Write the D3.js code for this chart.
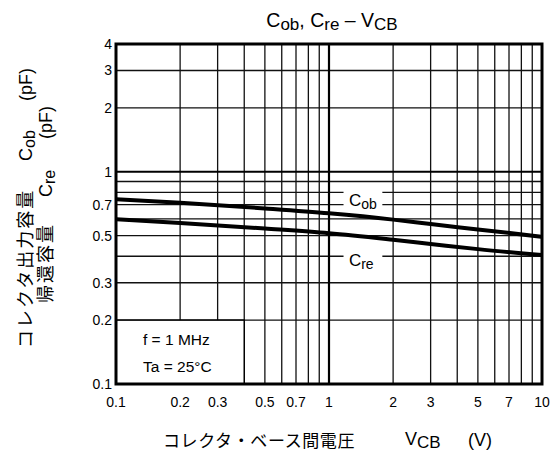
<!DOCTYPE html>
<html>
<head>
<meta charset="utf-8">
<script src="https://cdn.jsdelivr.net/npm/d3@7"></script>
<style>
  body { margin: 0; background: #fff; }
  text { font-family: "Liberation Sans", Arial, sans-serif; fill: #000; }
  .jp { font-family: "Noto Sans CJK JP", sans-serif; font-weight: 400; }
</style>
</head>
<body>
<div id="chart"></div>
<script>
const width = 557;
const height = 459;
const margin = { top: 44, right: 15, bottom: 75, left: 116 };

// Data
const vcb = [0.1, 0.2, 0.5, 1, 2, 3, 5, 10];
const cob = [0.742, 0.715, 0.672, 0.637, 0.595, 0.567, 0.535, 0.494];
const cre = [0.597, 0.574, 0.540, 0.513, 0.478, 0.457, 0.432, 0.405];

const xTicks = [0.1, 0.2, 0.3, 0.5, 0.7, 1, 2, 3, 5, 7, 10];
const yTicks = [0.1, 0.2, 0.3, 0.5, 0.7, 1, 2, 3, 4];
const xGrid = [0.2, 0.3, 0.4, 0.5, 0.6, 0.7, 0.8, 0.9, 2, 3, 4, 5, 6, 7, 8, 9];
const yGrid = [0.2, 0.3, 0.4, 0.5, 0.6, 0.7, 0.8, 0.9, 2, 3];

const svg = d3.select("#chart").append("svg")
  .attr("width", width)
  .attr("height", height);

const x = d3.scaleLog().domain([0.1, 10]).range([margin.left, width - margin.right]);
const y = d3.scaleLog().domain([0.1, 4]).range([height - margin.bottom, margin.top]);

// grid
const grid = svg.append("g");
grid.selectAll("line.gx")
  .data(xGrid)
  .join("line")
  .attr("x1", d => x(d)).attr("x2", d => x(d))
  .attr("y1", y(0.1)).attr("y2", y(4))
  .attr("stroke", "#111").attr("stroke-width", 1.3);
grid.selectAll("line.gy")
  .data(yGrid)
  .join("line")
  .attr("y1", d => y(d)).attr("y2", d => y(d))
  .attr("x1", x(0.1)).attr("x2", x(10))
  .attr("stroke", "#111").attr("stroke-width", 1.3);
// decade lines
grid.append("line")
  .attr("x1", x(1)).attr("x2", x(1)).attr("y1", y(0.1)).attr("y2", y(4))
  .attr("stroke", "#000").attr("stroke-width", 2.2);
grid.append("line")
  .attr("y1", y(1)).attr("y2", y(1)).attr("x1", x(0.1)).attr("x2", x(10))
  .attr("stroke", "#000").attr("stroke-width", 2.2);

// curves
const line = d3.line()
  .x((d, i) => x(vcb[i]))
  .y(d => y(d))
  .curve(d3.curveMonotoneX);

svg.append("path").datum(cob)
  .attr("d", line)
  .attr("fill", "none").attr("stroke", "#000").attr("stroke-width", 4);
svg.append("path").datum(cre)
  .attr("d", line)
  .attr("fill", "none").attr("stroke", "#000").attr("stroke-width", 4);

// curve labels with white backing over the grid
function curveLabel(sub, yv, top, base) {
  const g = svg.append("g");
  g.append("rect")
    .attr("x", x(1.17)).attr("width", x(1.78) - x(1.17))
    .attr("y", y(yv) + top).attr("height", 25)
    .attr("fill", "#fff");
  const t = g.append("text")
    .attr("x", x(1.24)).attr("y", y(yv) + base)
    .attr("font-size", 17);
  t.append("tspan").text("C");
  t.append("tspan").attr("font-size", 14).attr("dy", 3).text(sub);
}
curveLabel("ob", 0.8, -6, 14);
curveLabel("re", 0.4, -8, 10);

// condition box
svg.append("rect")
  .attr("x", x(0.1)).attr("y", y(0.2))
  .attr("width", x(0.4) - x(0.1)).attr("height", y(0.1) - y(0.2))
  .attr("fill", "#fff").attr("stroke", "#000").attr("stroke-width", 1.5);
svg.append("text").attr("x", 143).attr("y", 345).attr("font-size", 15.5).text("f = 1 MHz");
svg.append("text").attr("x", 143).attr("y", 372).attr("font-size", 15.5).text("Ta = 25°C");

// frame
svg.append("rect")
  .attr("x", x(0.1)).attr("y", y(4))
  .attr("width", x(10) - x(0.1)).attr("height", y(0.1) - y(4))
  .attr("fill", "none").attr("stroke", "#000").attr("stroke-width", 3);

// tick labels
svg.append("g").selectAll("text")
  .data(yTicks)
  .join("text")
  .attr("x", x(0.1) - 4)
  .attr("y", d => y(d))
  .attr("dy", "0.35em")
  .attr("text-anchor", "end")
  .attr("font-size", 14)
  .text(d => d);
svg.append("g").selectAll("text")
  .data(xTicks)
  .join("text")
  .attr("x", d => x(d))
  .attr("y", y(0.1) + 23)
  .attr("text-anchor", "middle")
  .attr("font-size", 14)
  .text(d => d);

// title
const title = svg.append("text")
  .attr("x", 332).attr("y", 27)
  .attr("text-anchor", "middle")
  .attr("font-size", 19.5);
title.append("tspan").text("C");
title.append("tspan").attr("font-size", 17).attr("dy", 3).text("ob");
title.append("tspan").attr("dy", -3).text(", C");
title.append("tspan").attr("font-size", 17).attr("dy", 3).text("re");
title.append("tspan").attr("dy", -3).text(" \u2013 V");
title.append("tspan").attr("font-size", 17).attr("dy", 3).text("CB");

// x axis title
svg.append("text").attr("class", "jp")
  .attr("x", 163).attr("y", 447)
  .attr("font-size", 17).attr("letter-spacing", 0.6)
  .text("コレクタ・ベース間電圧");
const xt = svg.append("text").attr("x", 405).attr("y", 445).attr("font-size", 18);
xt.append("tspan").text("V");
xt.append("tspan").attr("font-size", 17).attr("dy", 3).text("CB");
svg.append("text").attr("x", 468).attr("y", 446).attr("font-size", 18).text("(V)");

// y axis title, two rotated lines
function yLine(bx, jp, jpStart, sub, cStart, pfStart) {
  svg.append("text").attr("class", "jp")
    .attr("transform", `translate(${bx},${jpStart}) rotate(-90)`)
    .attr("font-size", 18).attr("letter-spacing", 2)
    .text(jp);
  const c = svg.append("text")
    .attr("transform", `translate(${bx},${cStart}) rotate(-90)`)
    .attr("font-size", 18);
  c.append("tspan").text("C");
  c.append("tspan").attr("font-size", 16).attr("dy", 3).text(sub);
  svg.append("text")
    .attr("transform", `translate(${bx},${pfStart}) rotate(-90)`)
    .attr("font-size", 18)
    .text("(pF)");
}
yLine(32, "コレクタ出力容量", 348, "ob", 161, 101);
yLine(52, "帰還容量", 303, "re", 197, 139);
</script>
</body>
</html>
